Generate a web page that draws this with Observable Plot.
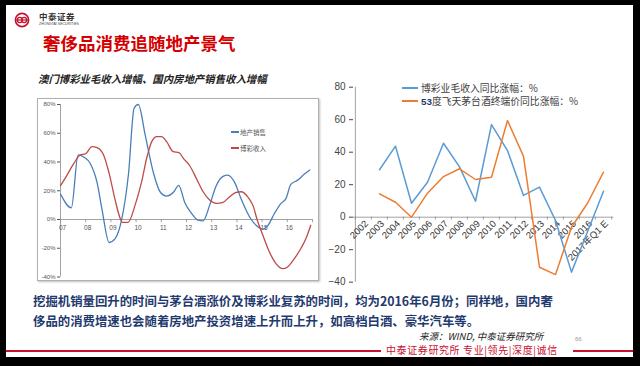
<!DOCTYPE html>
<html>
<head>
<meta charset="utf-8">
<script src="https://cdn.jsdelivr.net/npm/d3@7"></script>
<script src="https://cdn.jsdelivr.net/npm/@observablehq/plot@0.6"></script>
<style>
  html, body { margin: 0; padding: 0; background: #000; }
  #page { position: relative; width: 640px; height: 366px; background: #000; overflow: hidden;
          font-family: "Noto Sans CJK SC", "Liberation Sans", sans-serif; }
  #panel { position: absolute; left: 6px; top: 5px; width: 627px; height: 352px; background: #fff; }
  .abs { position: absolute; white-space: nowrap; }
  #leftFrame { position: absolute; left: 37px; top: 98px; width: 280px; height: 181px;
               border: 1px solid #b0b0b0; box-shadow: 1px 1px 2px rgba(0,0,0,0.25); background: #fff; }
  #leftChart { position: absolute; left: 37px; top: 98px; }
  #rightChart { position: absolute; left: 330px; top: 75px; }
</style>
</head>
<body>
<div id="page">
  <div id="panel"></div>

  <!-- header -->
  <svg class="abs" style="left:14px;top:12px" width="16" height="16" viewBox="0 0 16 16">
    <circle cx="8" cy="8" r="6.6" fill="none" stroke="#c8102e" stroke-width="1.6"/>
    <ellipse cx="5.8" cy="8" rx="2.4" ry="2.6" fill="none" stroke="#c8102e" stroke-width="1.2"/>
    <ellipse cx="10.2" cy="8" rx="2.4" ry="2.6" fill="none" stroke="#c8102e" stroke-width="1.2"/>
    <line x1="2" y1="8" x2="14" y2="8" stroke="#c8102e" stroke-width="1.2"/>
  </svg>
  <div class="abs" style="left:39px;top:11px;font-size:8.5px;font-weight:bold;color:#333;letter-spacing:0.5px;line-height:11px">中泰证券</div>
  <div class="abs" style="left:39px;top:22px;font-size:3.5px;color:#444;font-family:'Liberation Sans'">ZHONGTAI SECURITIES</div>
  <div class="abs" style="left:43px;top:31px;font-size:17.5px;font-weight:bold;color:#d40000;line-height:24px">奢侈品消费追随地产景气</div>

  <!-- left chart title -->
  <div class="abs" style="left:38px;top:72px;font-size:10.4px;font-weight:bold;font-style:italic;color:#222;line-height:14px">澳门博彩业毛收入增幅、国内房地产销售收入增幅</div>

  <div id="leftFrame"></div>
  <div id="leftChart"></div>
  <div id="leftLegend"></div>

  <div id="rightChart"></div>
  <div id="rightLegend"></div>

  <!-- bottom text -->
  <div class="abs" style="left:33px;top:291px;font-size:12.4px;font-weight:bold;color:#1f3a6e;line-height:20px">挖掘机销量回升的时间与茅台酒涨价及博彩业复苏的时间，均为2016年6月份；同样地，国内奢<br>侈品的消费增速也会随着房地产投资增速上升而上升，如高档白酒、豪华汽车等。</div>
  <div class="abs" style="left:419px;top:330px;font-size:9.5px;font-style:italic;color:#222;line-height:12px">来源：WIND, 中泰证券研究所</div>
  <div class="abs" style="left:575px;top:336px;font-size:6px;color:#999;font-family:'Liberation Sans'">66</div>
  <div class="abs" style="left:6px;top:350px;width:375px;height:1.5px;background:#c8102e"></div>
  <div class="abs" style="left:386px;top:344px;font-size:10px;color:#c8102e;line-height:12px;letter-spacing:0.6px">中泰证券研究所 专业|领先|深度|诚信</div>
  <div class="abs" style="left:573px;top:350px;width:60px;height:1.5px;background:#c8102e"></div>
</div>

<script>
// ---------- Left chart data (decimal years, % growth) ----------
const salesYears = [2007.0, 2007.43, 2007.70, 2007.92, 2008.18, 2008.45, 2008.64, 2008.93, 2009.17, 2009.43,
  2009.70, 2009.92, 2010.09, 2010.36, 2010.68, 2010.95, 2011.21, 2011.5, 2011.69, 2011.93,
  2012.2, 2012.46, 2012.66, 2012.92, 2013.18, 2013.45, 2013.64, 2013.91, 2014.17, 2014.5,
  2014.76, 2015.03, 2015.22, 2015.49, 2015.75, 2015.95, 2016.14, 2016.41, 2016.67, 2016.89];
const salesValues = [17.7, 8.1, 44.9, 43.5, 39, 25.8, 7.7, -16, -13.3, 0.2,
  32, 77.4, 80, 58.8, 33, 19.3, 16.3, 19.3, 23.8, 11.9,
  4.2, -0.5, -0.9, 10, 23.5, 30, 30.9, 25.8, 14.2, 1.9,
  -4, -6.7, -4.4, 4.2, 11.2, 14.7, 24.4, 27.4, 31.4, 34.4];

const gamingYears = [2007.0, 2007.26, 2007.53, 2007.79, 2007.99, 2008.25, 2008.45, 2008.71, 2008.93, 2009.17,
  2009.37, 2009.45, 2009.68, 2009.96, 2010.22, 2010.42, 2010.62, 2010.82, 2011.01, 2011.21,
  2011.47, 2011.7, 2011.9, 2012.13, 2012.39, 2012.66, 2012.92, 2013.18, 2013.45, 2013.71,
  2013.97, 2014.17, 2014.43, 2014.63, 2014.83, 2015.03, 2015.29, 2015.55, 2015.82, 2016.01,
  2016.28, 2016.54, 2016.74, 2016.93];
const gamingValues = [23.5, 30.9, 39, 44.9, 45.6, 50.7, 50, 44.9, 32.1, 13.5,
  0.7, -2, -2, 10, 26.3, 42.6, 54.2, 57.7, 57.7, 54.2,
  47.2, 46.5, 42, 37.4, 28.6, 19.3, 13.5, 11.2, 11.9, 15.8,
  18.8, 19.3, 15.8, 10, -1.6, -10.9, -22.6, -30.7, -34.2, -33,
  -27.2, -20.2, -13.3, -4];

const leftTickYears = [2007, 2008, 2009, 2010, 2011, 2012, 2013, 2014, 2015, 2016];
const leftTickLabels = ["07", "08", "09", "10", "11", "12", "13", "14", "15", "16"];
const leftYTicks = [-40, -20, 0, 20, 40, 60, 80];
const leftSeriesNames = ["地产销售", "博彩收入"];

// ---------- Right chart data (yearly, %) ----------
const rightCategories = ["2002", "2003", "2004", "2005", "2006", "2007", "2008", "2009", "2010",
  "2011", "2012", "2013", "2014", "2015", "2016", "2017年Q1 E"];
const gamingYoY = [null, 29.2, 43.7, 8.6, 21.5, 45.5, 31, 9.8, 57, 41, 13.4, 18.5, -2, -33.8, -9, 16];
const moutaiYoY = [null, 14.4, 9.2, 0, 14.8, 25, 29.8, 23.2, 24.6, 59.5, 37.4, -30.8, -35.3, -6.2, 8.6, 27.7];
const rightYTicks = [-40, -20, 0, 20, 40, 60, 80];
const rightSeriesNames = ["博彩业毛收入同比涨幅：%", "53度飞天茅台酒终端价同比涨幅：%"];

const BLUE_L = "#4a7ebb", RED_L = "#be4b48";
const BLUE_R = "#5b9bd5", ORANGE_R = "#ed7d31";

// ---------- Left chart ----------
const salesData = salesYears.map((t, i) => ({t, v: salesValues[i]}));
const gamingData = gamingYears.map((t, i) => ({t, v: gamingValues[i]}));

const left = Plot.plot({
  width: 281, height: 182,
  marginLeft: 23, marginRight: 6, marginTop: 6, marginBottom: 3.5,
  style: {background: "transparent", fontFamily: "'Liberation Sans', Arial, sans-serif", fontSize: "6px", color: "#555", overflow: "visible"},
  x: {domain: [2007, 2017], axis: null},
  y: {domain: [-40, 80], ticks: leftYTicks, tickFormat: d => d + "%", tickSize: 3, tickPadding: 2, label: null},
  marks: [
    Plot.ruleX([2007], {stroke: "#8c8c8c", strokeWidth: 0.8}),
    Plot.ruleY([0], {stroke: "#8c8c8c", strokeWidth: 0.8}),
    Plot.ruleX(leftTickYears.concat([2017]), {x: d => d, y1: 0, y2: -2.2, stroke: "#8c8c8c", strokeWidth: 0.8}),
    Plot.text(leftTickYears, {x: d => d, y: 0, text: (d, i) => leftTickLabels[i], dy: 8, dx: 2, fontSize: 6.5, fill: "#555"}),
    Plot.line(salesData, {x: "t", y: "v", stroke: BLUE_L, strokeWidth: 1.3, curve: "monotone-x"}),
    Plot.line(gamingData, {x: "t", y: "v", stroke: RED_L, strokeWidth: 1.3, curve: "monotone-x"})
  ]
});
document.getElementById("leftChart").appendChild(left);

// left legend (inside plot area)
const ll = document.getElementById("leftLegend");
[[BLUE_L, 132], [RED_L, 148]].forEach(([c, y], i) => {
  const sw = document.createElement("div");
  sw.className = "abs";
  sw.style.cssText = `left:231px;top:${y - 1}px;width:8px;height:1.5px;background:${c}`;
  ll.appendChild(sw);
  const tx = document.createElement("div");
  tx.className = "abs";
  tx.style.cssText = `left:240px;top:${y - 5}px;font-size:6.5px;line-height:10px;color:#555`;
  tx.textContent = leftSeriesNames[i];
  ll.appendChild(tx);
});

// ---------- Right chart ----------
const RW = 300, RML = 23, RMR = 16.7;
const step = (RW - RML - RMR) / rightCategories.length;
const gData = rightCategories.map((c, i) => ({c, v: gamingYoY[i]})).filter(d => d.v != null);
const mData = rightCategories.map((c, i) => ({c, v: moutaiYoY[i]})).filter(d => d.v != null);

const right = Plot.plot({
  width: RW, height: 225,
  marginLeft: RML, marginRight: RMR, marginTop: 11.7, marginBottom: 18.3,
  style: {background: "transparent", fontFamily: "'Liberation Sans', Arial, sans-serif", fontSize: "10px", color: "#444", overflow: "visible"},
  x: {type: "point", domain: rightCategories, padding: 0.5, axis: null},
  y: {domain: [-40, 80], ticks: rightYTicks, tickSize: 4, tickPadding: 4, label: null},
  marks: [
    Plot.ruleX([rightCategories[0]], {dx: -step / 2, stroke: "#8c8c8c", strokeWidth: 0.8}),
    Plot.ruleY([0], {stroke: "#8c8c8c", strokeWidth: 0.8}),
    Plot.ruleX(rightCategories, {x: d => d, y1: 0, y2: -1.8, dx: -step / 2, stroke: "#8c8c8c", strokeWidth: 0.8}),
    Plot.ruleX([rightCategories[rightCategories.length - 1]], {y1: 0, y2: -1.8, dx: step / 2, stroke: "#8c8c8c", strokeWidth: 0.8}),
    Plot.text(rightCategories, {x: d => d, y: 0, text: d => d, rotate: -45, textAnchor: "end", dx: 3, dy: 5, fontSize: 9.5, fill: "#333", fontFamily: "'Liberation Sans', 'Noto Sans CJK SC', sans-serif"}),
    Plot.line(gData, {x: "c", y: "v", stroke: BLUE_R, strokeWidth: 1.5}),
    Plot.line(mData, {x: "c", y: "v", stroke: ORANGE_R, strokeWidth: 1.5})
  ]
});
document.getElementById("rightChart").appendChild(right);

// right legend
const rl = document.getElementById("rightLegend");
[[BLUE_R, 88], [ORANGE_R, 101]].forEach(([c, y], i) => {
  const sw = document.createElement("div");
  sw.className = "abs";
  sw.style.cssText = `left:402px;top:${y - 1}px;width:16px;height:2px;background:${c}`;
  rl.appendChild(sw);
  const tx = document.createElement("div");
  tx.className = "abs";
  tx.style.cssText = `left:421px;top:${y - 6.5}px;font-size:9.8px;line-height:13px;color:#404040`;
  const name = rightSeriesNames[i];
  if (name.startsWith("53")) {
    tx.innerHTML = `<b style="color:#1f3a6e;font-family:'Liberation Sans'">53</b>` + name.slice(2);
  } else {
    tx.textContent = name;
  }
  rl.appendChild(tx);
});
</script>
</body>
</html>
